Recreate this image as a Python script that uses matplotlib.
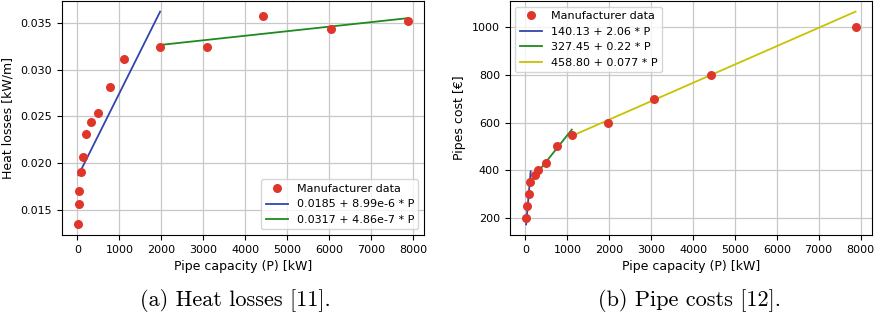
import matplotlib
matplotlib.use("Agg")
import matplotlib.pyplot as plt
import numpy as np

# ---- data: heat losses ----
hl_P = [24, 32, 48, 80, 127, 207, 318, 493, 771, 1113, 1972, 3078, 4429, 6036, 7873]
hl_val = [0.01344, 0.01564, 0.01703, 0.01902, 0.02062, 0.02311, 0.02443, 0.02532,
          0.02820, 0.03111, 0.03244, 0.03244, 0.03575, 0.03432, 0.03521]
hl_fit1 = (0.0185, 8.99e-6)
hl_fit1_range = (24, 1972)
hl_fit2 = (0.0317, 4.86e-7)
hl_fit2_range = (1972, 7873)
hl_labels = ["Manufacturer data", "0.0185 + 8.99e-6 * P", "0.0317 + 4.86e-7 * P"]

# ---- data: pipe costs ----
pc_P = [16, 40, 72, 119, 215, 302, 485, 763, 1105, 1964, 3077, 4437, 7881]
pc_val = [200, 250, 300, 350, 380, 400, 430, 500, 550, 600, 700, 800, 1000]
pc_fit1 = (140.13, 2.06)
pc_fit1_range = (16, 124)
pc_fit2 = (327.45, 0.22)
pc_fit2_range = (119, 1105)
pc_fit3 = (458.80, 0.077)
pc_fit3_range = (1105, 7881)
pc_labels = ["Manufacturer data", "140.13 + 2.06 * P", "327.45 + 0.22 * P", "458.80 + 0.077 * P"]

RED = "#e0352b"
BLUE = "#3344aa"
GREEN = "#1f8a1f"
YELLOW = "#c8c300"
FS_TICK = 8
FS_LAB = 9

fig = plt.figure(figsize=(8.81, 3.24), dpi=100)
axL = fig.add_axes([62/881, 89/324, 362/881, 234/324])
axR = fig.add_axes([509.7/881, 89/324, 362.3/881, 234/324])

def fitline(ax, fit, rng, color, label):
    x = np.array(rng, dtype=float)
    ax.plot(x, fit[0] + fit[1]*x, color=color, lw=1.3, label=label)

axL.plot(hl_P, hl_val, 'o', color=RED, ms=6.5, mec='none', label=hl_labels[0], zorder=3)
fitline(axL, hl_fit1, hl_fit1_range, BLUE, hl_labels[1])
fitline(axL, hl_fit2, hl_fit2_range, GREEN, hl_labels[2])
axL.set_xlabel("Pipe capacity (P) [kW]", fontsize=FS_LAB)
axL.set_ylabel("Heat losses [kW/m]", fontsize=FS_LAB)
axL.set_xticks(range(0, 8001, 1000))
axL.set_yticks([0.015, 0.020, 0.025, 0.030, 0.035])
axL.yaxis.set_major_formatter(matplotlib.ticker.FormatStrFormatter('%.3f'))
axL.legend(loc='lower right', fontsize=FS_TICK)

axR.plot(pc_P, pc_val, 'o', color=RED, ms=6.5, mec='none', label=pc_labels[0], zorder=3)
fitline(axR, pc_fit1, pc_fit1_range, BLUE, pc_labels[1])
fitline(axR, pc_fit2, pc_fit2_range, GREEN, pc_labels[2])
fitline(axR, pc_fit3, pc_fit3_range, YELLOW, pc_labels[3])
axR.set_xlabel("Pipe capacity (P) [kW]", fontsize=FS_LAB)
axR.set_ylabel("Pipes cost [€]", fontsize=FS_LAB)
axR.set_xticks(range(0, 8001, 1000))
axR.set_yticks([200, 400, 600, 800, 1000])
axR.legend(loc='upper left', fontsize=FS_TICK)

for ax in (axL, axR):
    ax.grid(True, color='#c8c8c8', lw=0.9)
    ax.set_axisbelow(True)
    ax.tick_params(labelsize=FS_TICK)

fig.text(235/881, 1 - 301/324, "(a) Heat losses [11].", fontname='cmr10', fontsize=16,
         ha='center', va='center')
fig.text(689/881, 1 - 301/324, "(b) Pipe costs [12].", fontname='cmr10', fontsize=16,
         ha='center', va='center')

fig.savefig("out.png", dpi=100)
